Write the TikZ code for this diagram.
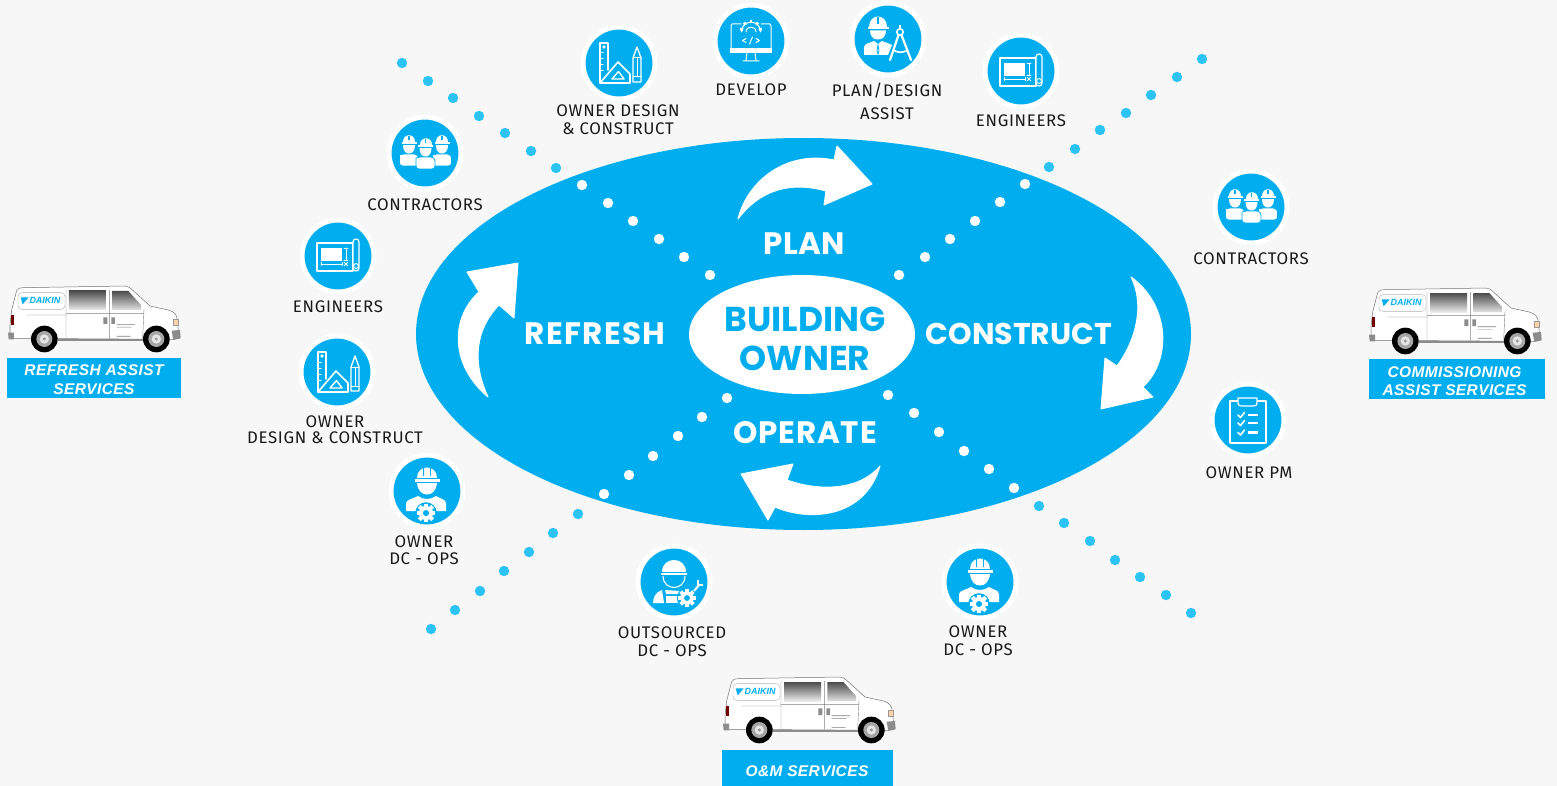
\documentclass[tikz,border=0pt]{standalone}
\usetikzlibrary{shapes.geometric}
\usepackage{fontspec}
\setmainfont{Fira Sans}
\newfontfamily\labfont[LetterSpace=4]{Fira Sans}
\newfontfamily\headfont{Poppins}
\newfontfamily\vanfont{Liberation Sans}
\newfontfamily\svcfont[LetterSpace=2.5]{Liberation Sans}
\definecolor{bg}{HTML}{F7F7F7}
\definecolor{brand}{HTML}{00AEEF}
\definecolor{dotblue}{HTML}{2BC3F3}
\definecolor{ink}{HTML}{1A1A1A}
\tikzset{
  x=1pt,y=-1pt,
  badge/.style={circle,fill=brand,draw=white,line width=5pt,minimum size=72pt,inner sep=0pt,outer sep=0pt},
  lab/.style={text=ink,align=center,inner sep=0pt,font=\labfont\fontsize{16.8}{18}\selectfont},
  mainlab/.style={text=white,inner sep=0pt,font=\headfont\fontsize{31}{32}\bfseries\selectfont},
  ownerlab/.style={text=brand,inner sep=0pt,font=\headfont\fontsize{34.5}{36}\bfseries\selectfont},
  svc/.style={fill=brand,inner sep=0pt,outer sep=0pt},
  svclab/.style={text=white,align=center,inner sep=0pt,font=\svcfont\fontsize{15.5}{18.5}\bfseries\itshape\selectfont},
  bigarrow/.style={fill=white,draw=white,line width=1pt,line join=round},
  wl/.style={draw=white,line width=1.2pt,line cap=round,line join=round},
  pics/gearw/.style={code={
    \fill[brand] (0,0) circle[radius=12];
    \foreach \a in {0,45,...,315}{\fill[white,rotate=\a] (-2.2,-10.5) rectangle (2.2,-6);}
    \fill[white] (0,0) circle[radius=7.8];
    \fill[brand] (0,0) circle[radius=3.4];
  }},
  pics/mate/.style={code={
    \fill[white,draw=brand,line width=.8pt] (-9.5,2) [rounded corners=3pt] -- (-9.5,13) -- (9.5,13) -- (9.5,2) [rounded corners=0pt] -- (5,1) -- (-5,1) -- cycle;
    \fill[white] (-6,-11) .. controls (-6,-20) and (6,-20) .. (6,-11) -- cycle;
    \fill[white] (-7.5,-10.6) rectangle (7.5,-9.4);
    \fill[brand] (-.6,-17) rectangle (.6,-13);
    \fill[white] (-6,-7.8) -- (6,-7.8) .. controls (6,-2) and (3,0.5) .. (0,0.5) .. controls (-3,0.5) and (-6,-2) .. (-6,-7.8) -- cycle;
  }},
  pics/crewicon/.style={code={
    \pic at (-16,0) {mate};
    \pic at (17,0) {mate};
    \pic at (0.5,3) {mate};
  }},
  pics/printicon/.style={code={
    \draw[wl] (-21,-13) rectangle (15,15);
    \fill[white] (-17,-8) rectangle (4,5);
    \draw[wl,fill=brand] (15,-14) .. controls (15,-18) and (21,-18) .. (21,-14) -- (21,12) .. controls (21,16) and (15,16) .. (15,12) -- cycle;
    \draw[wl,line width=.9pt] (8,-8) -- (8,4) (6,-8) -- (10,-8) (6,4) -- (10,4);
    \draw[wl,line width=.9pt] (-17,8) -- (4,8) (-17,6.5) -- (-17,9.5) (4,6.5) -- (4,9.5);
    \draw[wl,line width=.9pt] (6.5,6.5) -- (9.5,9.5) (6.5,9.5) -- (9.5,6.5);
    \draw[wl,line width=.9pt] (18,10) circle[radius=2.4];
  }},
  pics/toolsicon/.style={code={
    \draw[wl,line width=1.4pt] (-19,20) -- (-19,-20) -- (-11,-20) -- (-11,7);
    \draw[wl,line width=1pt] (-19,-10) -- (-16,-10) (-19,-4) -- (-16,-4) (-19,2) -- (-16,2) (-19,8) -- (-16,8);
    \draw[wl,line width=1pt] (-15,-16) circle[radius=1.2];
    \draw[wl,line width=1.6pt] (-19,20) -- (-1,-1) -- (11,11) -- (11,20) -- cycle;
    \draw[wl,line width=1.4pt] (-7,16) -- (-0.5,8.5) -- (5,16) -- cycle;
    \draw[wl,line width=1.3pt] (14,-5) -- (18,-16) -- (22,-5) -- (22,19) -- (14,19) -- cycle;
    \draw[wl,line width=1pt] (14,-5) -- (22,-5) (18,-5) -- (18,14) (14,14) -- (22,14);
  }},
  pics/screenicon/.style={code={
    \draw[wl,line width=1pt] (-10,-17) -- (-19,-17) -- (-20,-15) -- (-20,8);
    \draw[wl,line width=1pt] (10,-17) -- (19,-17) -- (20,-15) -- (20,8);
    \fill[white] (-21,7) rectangle (21,12);
    \draw[wl,line width=1pt] (-4,12) -- (-5,19) (4,12) -- (5,19) (-8,20) -- (8,20);
    \foreach \a in {-80,-40,0,40,80}{\fill[white,rotate around={\a:(0,-10)}] (-1.4,-21) rectangle (1.4,-18);}
    \draw[wl,line width=1pt] (-9.5,-9) .. controls (-9.5,-22) and (9.5,-22) .. (9.5,-9);
    \draw[wl,line width=1pt] (-5,-9) .. controls (-5,-15.5) and (5,-15.5) .. (5,-9);
    \draw[wl,line width=1pt] (-5,-2.5) -- (-8.5,-0.5) -- (-5,1.5) (5,-2.5) -- (8.5,-0.5) -- (5,1.5) (1.5,-4) -- (-1.5,3);
  }},
  pics/plannericon/.style={code={
    \fill[white] (-19,-12) .. controls (-19,-26) and (-1,-26) .. (-1,-12) -- cycle;
    \fill[white] (-20.5,-12) rectangle (0.5,-9.8);
    \fill[brand] (-10.6,-22) rectangle (-9.4,-15);
    \fill[white] (-18,-8.5) -- (-2,-8.5) .. controls (-2,-3) and (-5,0.5) .. (-10,0.5) .. controls (-15,0.5) and (-18,-3) .. (-18,-8.5) -- cycle;
    \fill[white] (-24,16) -- (-24,8) .. controls (-23,4) and (-18,4) .. (-14,2) -- (-10,5) -- (-6,2) .. controls (-2,4) and (1,4) .. (4,6) -- (0,16) -- cycle;
    \draw[brand,line width=.8pt] (-10,6) -- (-11,12) -- (-10,15) -- (-9,12) -- cycle;
    \draw[white,line width=1.6pt,fill=brand] (12,-7) circle[radius=3.2];
    \fill[white] (11,-14) rectangle (13,-10);
    \draw[white,line width=2.2pt,line cap=round] (10.5,-4) -- (2,21) (13.5,-4) -- (23,21);
    \draw[white,line width=1.6pt] (5,11) .. controls (10,14) and (15,14) .. (20,11);
  }},
  pics/workericon/.style={code={
    \fill[white] (-10,-13) .. controls (-10,-27) and (10,-27) .. (10,-13) -- cycle;
    \fill[white] (-12.5,-12) rectangle (12.5,-9.5);
    \fill[brand] (-3.8,-24) rectangle (-3.0,-15) (3.0,-24) rectangle (3.8,-15);
    \fill[white] (-10,-8) -- (10,-8) .. controls (9,0) and (5,3.5) .. (0,3.5) .. controls (-5,3.5) and (-9,0) .. (-10,-8) -- cycle;
    \fill[white] (-21,20) -- (-21,12) .. controls (-20,8) and (-14,8) .. (-9,5) .. controls (-4,9) and (4,9) .. (9,5) .. controls (14,8) and (18,8) .. (19,12) -- (19,20) -- cycle;
    \pic[scale=.9] at (-1,22) {gearw};
  }},
  pics/outsourceicon/.style={code={
    \fill[white] (-12,-10) .. controls (-12,-26) and (12,-26) .. (12,-10) -- cycle;
    \fill[white] (-13,-9.5) rectangle (13,-7.5);
    \draw[white,line width=1.1pt] (-11,-6) .. controls (-11,2) and (-5,5.5) .. (0,5.5) .. controls (5,5.5) and (11,2) .. (11,-6);
    \fill[white] (-21,21) .. controls (-21,15) and (-18,10) .. (-12,8) -- (-10,21) -- cycle;
    \fill[white] (-9,8) -- (6,9) -- (4,12) -- (-8,12) -- cycle;
    \fill[white] (-8,14) -- (6,14) -- (6,21) -- (-8,21) -- cycle;
    \pic[scale=.85] at (13,16) {gearw};
    \draw[white,line width=2pt] (20,9) -- (25,3);
    \draw[white,line width=1.5pt] (24,-2) -- (24,3) -- (29,3);
  }},
  pics/boardicon/.style={code={
    \draw[wl,line width=1.2pt] (-10,-19) -- (-18,-19) -- (-18,23) -- (18,23) -- (18,-19) -- (9,-19);
    \draw[wl,line width=1.2pt,fill=brand] (-10,-22) -- (9,-22) -- (9,-18) .. controls (9,-14) and (7,-14) .. (5,-14) -- (-6,-14) .. controls (-8,-14) and (-10,-14) .. (-10,-18) -- cycle;
    \foreach \yy in {-5,3,12.5}{
      \draw[wl,line width=1.6pt] (-10,\yy) -- (-7.5,\yy+2.5) -- (-3.5,\yy-2.5);
      \fill[white] (0,\yy-1.3) rectangle (10,\yy+1.3);
    }
  }},
  pics/van/.style={code={
    \begin{scope}[scale=1/3]
      \fill[white,draw=black!55,line width=.5pt] (35,120) -- (50,62) .. controls (54,54) and (60,53) .. (70,53) -- (375,48) .. controls (385,48) and (392,55) .. (395,58) -- (450,108) -- (505,120) .. controls (525,126) and (530,135) .. (532,150) -- (535,182) -- (520,208) -- (30,205) -- (30,165) -- cycle;
      \fill[black!45] (175,206) rectangle (430,212);
      \draw[black!30,line width=.4pt,rounded corners=4pt] (54,68) rectangle (195,118);
      \draw[black!50,line width=.4pt] (198,60) -- (198,205) (328,60) -- (328,205) (432,118) -- (428,205) (80,135) -- (198,135) (198,130) -- (430,130);
      \shade[top color=black!70,bottom color=black!8] (207,63) rectangle (318,120);
      \shade[top color=black!70,bottom color=black!12] (337,63) -- (385,63) -- (423,105) -- (423,120) -- (337,120) -- cycle;
      \fill[brand] (62,82) -- (86,82) -- (68,103) -- cycle;
      \node[inner sep=0pt,text=brand,font=\vanfont\fontsize{9}{9}\bfseries\itshape\selectfont] at (135,92) {DAIKIN};
      \fill[black!45] (310,142) rectangle (322,162) (334,142) rectangle (345,162);
      \fill[black!50] (350,163) rectangle (405,165) (350,171) rectangle (395,172.5) (350,198) rectangle (392,200);
      \fill[red!45!black] (32,135) rectangle (42,165);
      \fill[black!45] (24,188) -- (42,188) -- (42,208) -- (26,208) -- cycle;
      \fill[black!45] (515,182) -- (540,180) -- (542,205) -- (520,210) -- cycle;
      \fill[orange!35!white,draw=black!40,line width=.3pt] (520,146) rectangle (533,166);
      \foreach \wx in {133,469}{
        \fill[black] (\wx,207) circle[radius=40];
        \fill[black!35] (\wx,207) circle[radius=24];
        \fill[black!10] (\wx,207) circle[radius=14];
        \fill[black!40] (\wx,207) circle[radius=5];
      }
    \end{scope}
  }}
}
\begin{document}
\begin{tikzpicture}
\path[use as bounding box,fill=bg] (0,0) rectangle (1557,786);
% main ellipse
\node[ellipse,fill=brand,minimum width=775pt,minimum height=392pt,inner sep=0pt,outer sep=0pt] (cycleoval) at (803.5,334) {};
% dots
\foreach \px/\py in {402/63,428/81,453/98,479/116,505/133,531/151,556/168,1039/506,1064/523,1090/541,1115/560,1140/577,1166/595,1191/613,
  1202/59,1177/77,1151/95,1126/113,1100/130,1075/149,1049/167,578/514,553/533,529/552,504/571,480/591,455/610,431/629}
  \fill[dotblue] (\px,\py) circle[radius=5.2];
\foreach \px/\py in {582/185,608/203,633/221,659/239,684/257,710/275,888/395,914/413,939/432,964/451,989/469,1014/488,
  1025/184,1000/202,975/221,950/239,925/257,899/275,727/398,702/417,678/436,653/456,629/475,604/494}
  \fill[white] (\px,\py) circle[radius=5.2];
% centre
\node[ellipse,fill=white,minimum width=226pt,minimum height=119pt,inner sep=0pt,outer sep=0pt] (centreoval) at (802,334.5) {};
\node[ownerlab] (tbuilding) at (805,319) {BUILDING};
\node[ownerlab] (towner) at (805,358) {OWNER};
\node[mainlab] (tplan) at (804,244) {\addfontfeature{LetterSpace=1}PLAN};
\node[mainlab] (trefresh) at (595,334) {\addfontfeature{LetterSpace=4.5}REFRESH};
\node[mainlab,font=\headfont\fontsize{30}{32}\bfseries\selectfont] (tconstruct) at (1019,334) {CONSTRUCT};
\node[mainlab] (toperate) at (805,433) {\addfontfeature{LetterSpace=2.8}OPERATE};
% big arrows
\path[bigarrow] (738,219) .. controls (747,182) and (785,150) .. (834,160) -- (837,146) -- (872,184) -- (824,205) -- (826,191) .. controls (790,181) and (760,190) .. (738,219) -- cycle;
\path[bigarrow] (1131,277) .. controls (1170,305) and (1172,360) .. (1143,387) -- (1153,397) -- (1101,409) -- (1105,358) -- (1117,366) .. controls (1136,340) and (1145,305) .. (1131,277) -- cycle;
\path[bigarrow] (488,397) .. controls (450,365) and (450,318) .. (479,292) -- (467,272) -- (518,263) -- (514,318) -- (499,305) .. controls (475,330) and (472,362) .. (488,397) -- cycle;
\path[bigarrow] (880,466) .. controls (865,518) and (810,522) .. (775,507) -- (768,520) -- (741,474) -- (793,464) -- (787,480) .. controls (820,492) and (860,490) .. (880,466) -- cycle;
% badges
\node[badge] (bdesignT) at (619,63) {};      \pic at (619,63) {toolsicon};
\node[badge] (bdevelop) at (751,41) {};      \pic at (751,41) {screenicon};
\node[badge] (bplan) at (888,39) {};         \pic at (888,39) {plannericon};
\node[badge] (bengT) at (1021,71) {};        \pic at (1021,71) {printicon};
\node[badge] (bconR) at (1251,207) {};       \pic at (1251,207) {crewicon};
\node[badge] (bpm) at (1248,420) {};         \pic at (1248,420) {boardicon};
\node[badge] (bopsR) at (980,582) {};        \pic at (980,582) {workericon};
\node[badge] (bout) at (674,582) {};         \pic at (674,582) {outsourceicon};
\node[badge] (bopsL) at (427,491) {};        \pic at (427,491) {workericon};
\node[badge] (bdesignL) at (337,372) {};     \pic at (337,372) {toolsicon};
\node[badge] (bengL) at (338,256) {};        \pic at (338,256) {printicon};
\node[badge] (bconL) at (425,153) {};        \pic at (425,153) {crewicon};
% labels
\node[lab] (l1) at (618,119.5) {OWNER DESIGN\\[0pt]\&\ CONSTRUCT};
\node[lab] (l2) at (751,90) {DEVELOP};
\node[lab] (l3) at (887,101.5) {PLAN/DESIGN\\[5pt]ASSIST};
\node[lab] (l4) at (1021,120.5) {ENGINEERS};
\node[lab] (l5) at (1251,258.5) {CONTRACTORS};
\node[lab] (l6) at (1249,472.5) {OWNER PM};
\node[lab] (l7) at (978,640.5) {OWNER\\DC - OPS};
\node[lab] (l8) at (672,641.5) {OUTSOURCED\\DC - OPS};
\node[lab] (l9) at (424,550) {OWNER\\[-1pt]DC - OPS};
\node[lab] (l10) at (335,429.5) {OWNER\\[-2pt]DESIGN \&\ CONSTRUCT};
\node[lab] (l11) at (338,306.5) {ENGINEERS};
\node[lab] (l12) at (425,204.5) {CONTRACTORS};
% vans
\pic at (0,270) {van};
\pic at (1361,272) {van};
\pic at (715,661) {van};
\node[svc,minimum width=174pt,minimum height=40pt] (s1) at (94,378) {};
\node[svclab] (s1t) at (94,379.5) {REFRESH ASSIST\\SERVICES};
\node[svc,minimum width=176pt,minimum height=40pt] (s2) at (1457,379) {};
\node[svclab] (s2t) at (1454.5,381) {COMMISSIONING\\ASSIST SERVICES};
\node[svc,minimum width=171pt,minimum height=36pt] (s3) at (807.5,768) {};
\node[svclab] (s3t) at (807,771) {O\&M SERVICES};
\end{tikzpicture}
\end{document}
